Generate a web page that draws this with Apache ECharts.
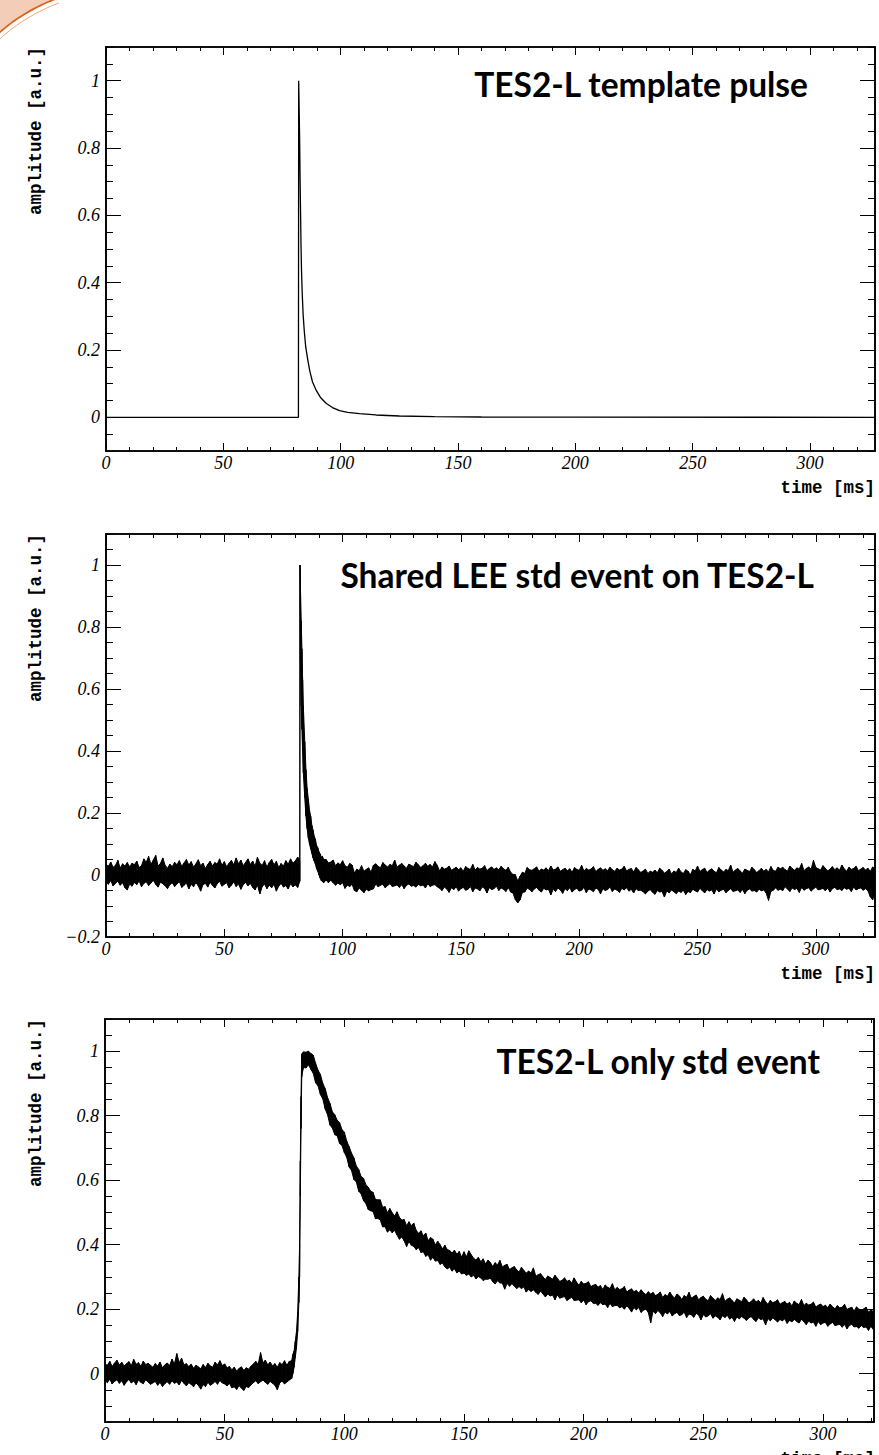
<!DOCTYPE html>
<html>
<head>
<meta charset="utf-8">
<script src="https://cdn.jsdelivr.net/npm/echarts@6/dist/echarts.min.js"></script>
<style>
  html, body { margin: 0; padding: 0; background: #ffffff; }
  #chart { width: 879px; height: 1455px; }
</style>
</head>
<body>
<div id="chart"></div>
<script>
// ---------- tick labels ----------
const xMajorTicks = [0, 50, 100, 150, 200, 250, 300];
const templateYTicks = [0, 0.2, 0.4, 0.6, 0.8, 1];
const leeYTicks = [-0.2, 0, 0.2, 0.4, 0.6, 0.8, 1];
const tesYTicks = [0, 0.2, 0.4, 0.6, 0.8, 1];

// ---------- panel 1: TES2-L template pulse (time in ms, amplitude in a.u.) ----------
const templateTime = [0, 82.0, 82.1, 82.3, 82.5, 82.7, 82.9, 83.1, 83.3, 83.6,
  84.0, 84.5, 85.1, 86.0, 86.8, 88.0, 89.6, 91.5, 93.9, 96.5,
  99.5, 103, 108, 115, 125, 140, 160, 200, 327.68];
const templateAmp = [0, 0, 1.0, 0.92, 0.83, 0.71, 0.61, 0.51, 0.44, 0.37,
  0.305, 0.255, 0.209, 0.17, 0.139, 0.105, 0.08, 0.058, 0.041, 0.029,
  0.02, 0.015, 0.011, 0.007, 0.004, 0.002, 0.001, 0.0005, 0];

// ---------- panel 2: shared LEE std event (lower / upper edge of the noisy trace) ----------
const leeTime = [
  0,1,2,3,4,5,6,7,8,9,10,11,12,13,14,15,16,17,18,19,20,21,22,23,24,25,26,27,28,29,
  30,31,32,33,34,35,36,37,38,39,40,41,42,43,44,45,46,47,48,49,50,51,52,53,54,55,56,57,58,59,
  60,61,62,63,64,65,66,67,68,69,70,71,72,73,74,75,76,77,78,79,80,81,
  81.9,82,82.2,82.5,82.8,83.1,83.4,84,84.5,85,85.5,86,86.5,87,87.5,88,88.5,89,89.5,90,90.5,91,91.5,92,
  93,94,95,96,97,98,99,100,101,102,103,104,105,106,107,108,109,110,111,112,113,114,115,116,117,118,119,120,
  121,122,123,124,125,126,127,128,129,130,131,132,133,134,135,136,137,138,139,140,141,142,143,144,145,146,147,148,149,150,
  151,152,153,154,155,156,157,158,159,160,161,162,163,164,165,166,167,168,169,170,171,172,173,174,175,176,177,178,179,180,
  181,182,183,184,185,186,187,188,189,190,191,192,193,194,195,196,197,198,199,200,201,202,203,204,205,206,207,208,209,210,
  211,212,213,214,215,216,217,218,219,220,221,222,223,224,225,226,227,228,229,230,231,232,233,234,235,236,237,238,239,240,
  241,242,243,244,245,246,247,248,249,250,251,252,253,254,255,256,257,258,259,260,261,262,263,264,265,266,267,268,269,270,
  271,272,273,274,275,276,277,278,279,280,281,282,283,284,285,286,287,288,289,290,291,292,293,294,295,296,297,298,299,300,
  301,302,303,304,305,306,307,308,309,310,311,312,313,314,315,316,317,318,319,320,321,322,323,324,325
];
const leeLow = [
  -0.022,-0.030,-0.018,-0.035,-0.027,-0.020,-0.033,-0.025,-0.041,-0.048,
  -0.029,-0.036,-0.024,-0.031,-0.019,-0.038,-0.027,-0.022,-0.034,-0.026,
  -0.017,-0.030,-0.039,-0.023,-0.028,-0.035,-0.044,-0.031,-0.025,-0.037,
  -0.029,-0.021,-0.040,-0.033,-0.026,-0.045,-0.030,-0.038,-0.024,-0.035,
  -0.052,-0.031,-0.027,-0.039,-0.023,-0.034,-0.042,-0.028,-0.020,-0.036,
  -0.030,-0.025,-0.041,-0.033,-0.022,-0.037,-0.029,-0.046,-0.031,-0.024,
  -0.035,-0.027,-0.040,-0.048,-0.032,-0.061,-0.038,-0.029,-0.044,-0.033,
  -0.041,-0.030,-0.052,-0.036,-0.027,-0.039,-0.034,-0.045,-0.028,-0.038,
  -0.032,-0.040,
  -0.020,0.900,0.700,0.545,0.470,0.400,0.330,0.250,0.190,0.150,0.120,0.100,
  0.085,0.070,0.055,0.045,0.035,0.020,0.012,0.000,-0.010,-0.018,-0.022,-0.025,
  -0.016,-0.025,-0.017,-0.025,-0.033,-0.026,-0.031,-0.025,-0.043,-0.033,
  -0.037,-0.030,-0.050,-0.054,-0.042,-0.049,-0.057,-0.046,-0.051,-0.047,
  -0.045,-0.029,-0.038,-0.033,-0.030,-0.041,-0.034,-0.028,-0.037,-0.035,
  -0.032,-0.040,-0.031,-0.044,-0.033,-0.029,-0.036,-0.034,-0.039,-0.030,
  -0.035,-0.032,-0.042,-0.028,-0.037,-0.033,-0.031,-0.038,-0.043,-0.050,
  -0.039,-0.045,-0.056,-0.041,-0.047,-0.038,-0.052,-0.044,-0.040,-0.049,
  -0.046,-0.037,-0.054,-0.042,-0.045,-0.051,-0.039,-0.043,-0.058,-0.041,
  -0.047,-0.044,-0.036,-0.050,-0.042,-0.046,-0.053,-0.040,-0.055,-0.058,
  -0.079,-0.090,-0.080,-0.056,-0.055,-0.042,-0.047,-0.054,-0.045,-0.040,
  -0.049,-0.055,-0.043,-0.048,-0.046,-0.064,
  -0.046,-0.053,-0.042,-0.048,-0.059,-0.044,-0.050,-0.041,-0.055,-0.047,
  -0.043,-0.052,-0.049,-0.040,-0.057,-0.045,-0.048,-0.054,-0.042,-0.046,
  -0.061,-0.044,-0.050,-0.047,-0.039,-0.053,-0.045,-0.049,-0.056,-0.043,
  -0.048,-0.041,-0.052,-0.046,-0.058,-0.044,-0.050,-0.049,-0.054,-0.061,
  -0.052,-0.047,-0.056,-0.062,-0.050,-0.055,-0.053,-0.071,-0.051,-0.058,
  -0.048,-0.054,-0.060,-0.052,-0.056,-0.049,-0.063,-0.053,-0.057,-0.046,
  -0.051,-0.055,-0.043,-0.050,-0.058,-0.047,-0.052,-0.048,-0.061,-0.045,
  -0.054,-0.049,-0.046,-0.057,-0.050,-0.044,-0.053,-0.051,-0.048,-0.056,
  -0.047,-0.060,-0.049,-0.045,-0.052,-0.050,-0.055,-0.046,-0.051,-0.048,
  -0.058,-0.082,-0.053,-0.049,-0.042,-0.049,
  -0.046,-0.050,-0.038,-0.045,-0.053,-0.042,-0.047,-0.043,-0.056,-0.040,
  -0.049,-0.044,-0.041,-0.052,-0.045,-0.039,-0.048,-0.046,-0.043,-0.051,
  -0.042,-0.055,-0.044,-0.040,-0.047,-0.045,-0.050,-0.041,-0.046,-0.043,
  -0.053,-0.039,-0.048,-0.044,-0.042,-0.049,-0.044,-0.051,-0.070,-0.080,
  -0.057
];
const leeHigh = [
  0.035,0.028,0.042,0.025,0.031,0.047,0.022,0.036,0.029,0.040,
  0.026,0.038,0.033,0.045,0.024,0.030,0.052,0.041,0.060,0.034,
  0.048,0.063,0.029,0.037,0.055,0.031,0.022,0.035,0.027,0.041,
  0.033,0.046,0.028,0.039,0.050,0.032,0.043,0.026,0.036,0.049,
  0.030,0.038,0.021,0.034,0.044,0.029,0.040,0.035,0.052,0.031,
  0.043,0.027,0.038,0.047,0.033,0.055,0.036,0.048,0.030,0.041,
  0.052,0.034,0.045,0.028,0.057,0.038,0.031,0.046,0.026,0.040,
  0.050,0.033,0.044,0.024,0.037,0.029,0.046,0.035,0.052,0.038,
  0.045,0.058,
  0.045,1.000,0.920,0.820,0.730,0.630,0.545,0.430,0.340,0.280,0.245,0.210,
  0.190,0.160,0.145,0.125,0.115,0.095,0.088,0.075,0.068,0.058,0.060,0.050,
  0.050,0.039,0.042,0.048,0.030,0.039,0.033,0.046,0.030,0.025,
  0.037,0.032,0.006,0.019,0.014,0.030,0.012,0.018,0.023,0.009,
  0.031,0.036,0.028,0.023,0.040,0.032,0.026,0.034,0.030,0.048,
  0.025,0.032,0.037,0.029,0.022,0.035,0.031,0.027,0.041,0.033,
  0.024,0.030,0.038,0.028,0.034,0.026,0.043,0.031,0.013,0.026,
  0.019,0.022,0.029,0.015,0.020,0.025,0.017,0.023,0.012,0.027,
  0.021,0.018,0.034,0.016,0.024,0.019,0.022,0.030,0.014,0.021,
  0.026,0.018,0.023,0.017,0.028,0.020,0.015,0.025,0.009,0.002,
  0.001,-0.019,-0.004,0.009,0.005,0.024,0.017,0.015,0.020,0.026,
  0.012,0.019,0.016,0.023,0.014,0.029,
  0.016,0.019,0.026,0.012,0.017,0.022,0.014,0.020,0.009,0.024,
  0.018,0.015,0.031,0.013,0.021,0.016,0.019,0.027,0.011,0.018,
  0.023,0.015,0.020,0.014,0.025,0.017,0.012,0.022,0.016,0.019,
  0.028,0.013,0.018,0.021,0.010,0.024,0.017,0.008,0.013,0.019,
  0.005,0.012,0.009,0.016,0.007,0.022,0.015,0.006,0.011,0.019,
  0.003,0.013,0.008,0.022,0.010,0.005,0.017,0.012,0.001,0.018,
  0.013,0.029,0.011,0.017,0.022,0.008,0.015,0.020,0.012,0.007,
  0.024,0.016,0.010,0.018,0.014,0.032,0.009,0.016,0.021,0.013,
  0.006,0.019,0.015,0.011,0.025,0.017,0.008,0.014,0.022,0.012,
  0.018,0.010,0.027,0.015,0.012,0.025,
  0.020,0.025,0.017,0.012,0.029,0.021,0.015,0.023,0.019,0.037,
  0.014,0.021,0.026,0.018,0.047,0.024,0.020,0.016,0.030,0.022,
  0.013,0.019,0.027,0.017,0.023,0.015,0.032,0.020,0.012,0.025,
  0.018,0.021,0.028,0.014,0.019,0.024,0.016,0.022,0.011,0.026,
  0.020
];

// ---------- panel 3: TES2-L only std event (lower / upper edge of the noisy trace) ----------
const tesTime = [
  0,1,2,3,4,5,6,7,8,9,10,11,12,13,14,15,16,17,18,19,20,21,22,23,24,25,26,27,28,29,
  30,31,32,33,34,35,36,37,38,39,40,41,42,43,44,45,46,47,48,49,50,51,52,53,54,55,56,57,58,59,
  60,61,62,63,64,65,66,67,68,69,70,71,72,73,74,75,76,77,
  78,78.5,79,79.5,80,80.5,81,81.3,81.6,81.9,82.2,82.5,83,
  84,85,86,87,88,89,90,91,92,93,94,95,96,97,98,99,100,101,102,103,104,105,106,107,108,109,110,
  111,112,113,114,115,116,117,118,119,120,121,122,123,124,125,126,127,128,129,130,131,132,133,134,135,136,137,138,139,140,
  141,142,143,144,145,146,147,148,149,150,151,152,153,154,155,156,157,158,159,160,161,162,163,164,165,166,167,168,169,170,
  171,172,173,174,175,176,177,178,179,180,181,182,183,184,185,186,187,188,189,190,191,192,193,194,195,196,197,198,199,200,
  201,202,203,204,205,206,207,208,209,210,211,212,213,214,215,216,217,218,219,220,221,222,223,224,225,226,227,228,229,230,
  231,232,233,234,235,236,237,238,239,240,241,242,243,244,245,246,247,248,249,250,251,252,253,254,255,256,257,258,259,260,
  261,262,263,264,265,266,267,268,269,270,271,272,273,274,275,276,277,278,279,280,281,282,283,284,285,286,287,288,289,290,
  291,292,293,294,295,296,297,298,299,300,301,302,303,304,305,306,307,308,309,310,311,312,313,314,315,316,317,318,319,320,321
];
const tesLow = [
  -0.021,-0.028,-0.017,-0.032,-0.024,-0.019,-0.030,-0.022,-0.036,-0.025,
  -0.018,-0.029,-0.023,-0.034,-0.020,-0.027,-0.031,-0.019,-0.026,-0.033,
  -0.029,-0.024,-0.036,-0.027,-0.040,-0.031,-0.025,-0.033,-0.022,-0.030,
  -0.026,-0.035,-0.021,-0.030,-0.038,-0.028,-0.033,-0.041,-0.029,-0.036,
  -0.048,-0.034,-0.040,-0.027,-0.036,-0.031,-0.024,-0.033,-0.021,-0.029,
  -0.032,-0.038,-0.030,-0.044,-0.041,-0.049,-0.037,-0.045,-0.052,-0.040,
  -0.043,-0.035,-0.028,-0.022,-0.031,-0.025,-0.020,-0.027,-0.033,-0.024,
  -0.030,-0.036,-0.050,-0.029,-0.023,-0.032,-0.026,-0.020,
  -0.015,0.000,0.020,0.050,0.080,0.130,0.220,0.300,0.550,0.760,0.920,0.935,0.950,
  0.948,0.958,0.944,0.932,0.902,0.893,0.866,0.852,0.821,0.803,
  0.771,0.762,0.741,0.738,0.714,0.708,0.686,0.671,0.641,0.630,
  0.602,0.595,0.566,0.558,0.537,0.528,0.509,
  0.505,0.503,0.481,0.481,0.477,0.455,0.456,0.439,0.446,0.437,
  0.445,0.430,0.417,0.424,0.412,0.394,0.410,0.398,0.395,0.385,
  0.391,0.376,0.378,0.364,0.369,0.352,0.361,0.349,0.351,0.339,
  0.343,0.331,0.325,0.330,0.318,0.325,0.313,0.318,0.309,0.312,
  0.305,0.309,0.300,0.305,0.294,0.301,0.297,0.289,0.293,
  0.293,0.296,0.285,0.278,0.288,0.281,0.281,0.262,0.280,0.271,
  0.279,0.272,0.264,0.270,0.264,0.269,0.253,0.261,0.255,0.260,
  0.252,0.246,0.256,0.247,0.238,0.247,0.241,0.244,0.229,0.244,
  0.234,0.237,0.239,0.227,0.232,0.237,0.227,0.228,0.229,0.220,
  0.228,0.214,0.223,0.226,0.218,0.218,0.212,0.220,0.214,0.216,
  0.205,0.218,0.208,0.211,0.212,0.204,0.208,0.200,0.210,0.203,
  0.191,0.205,0.198,0.205,0.190,0.197,0.200,0.190,0.158,
  0.194,0.186,0.196,0.189,0.177,0.191,0.185,0.193,0.179,0.186,
  0.190,0.180,0.183,0.191,0.174,0.185,0.182,0.175,0.187,0.182,
  0.167,0.183,0.176,0.179,0.186,0.172,0.179,0.175,0.167,0.180,
  0.174,0.181,0.169,0.175,0.162,0.176,0.170,0.177,0.172,0.165,
  0.173,0.177,0.168,0.162,0.173,0.168,0.170,0.151,0.171,0.164,
  0.173,0.167,0.160,0.168,0.164,0.170,0.156,0.165,0.161,0.168,
  0.162,0.157,0.169,0.161,0.152,0.163,0.157,0.160,0.147,0.162,
  0.152,0.157,0.159,0.147,0.154,0.159,0.149,0.151,0.153,0.144,
  0.153,0.139,0.149,0.153,0.145,0.146,0.141,0.149,0.143,0.145,
  0.134,0.147,0.137
];
const tesHigh = [
  0.030,0.026,0.038,0.022,0.033,0.041,0.027,0.035,0.024,0.031,
  0.037,0.025,0.044,0.029,0.034,0.023,0.039,0.028,0.032,0.026,
  0.020,0.031,0.024,0.036,0.018,0.027,0.033,0.025,0.045,0.030,
  0.062,0.034,0.048,0.027,0.031,0.022,0.029,0.017,0.026,0.021,
  0.015,0.028,0.019,0.032,0.024,0.020,0.035,0.027,0.040,0.025,
  0.030,0.018,0.022,0.012,0.020,0.008,0.016,0.021,0.010,0.018,
  0.014,0.023,0.030,0.038,0.029,0.065,0.033,0.042,0.027,0.036,
  0.024,0.031,0.020,0.034,0.028,0.040,0.026,0.038,
  0.040,0.060,0.070,0.100,0.130,0.190,0.300,0.400,0.660,0.860,0.990,0.995,0.998,
  0.997,1.000,0.993,0.988,0.962,0.941,0.928,0.900,0.884,0.856,
  0.838,0.812,0.803,0.786,0.779,0.757,0.749,0.721,0.704,0.684,
  0.669,0.644,0.633,0.611,0.606,0.586,0.578,
  0.566,0.562,0.540,0.539,0.539,0.516,0.518,0.499,0.512,0.499,
  0.489,0.502,0.485,0.476,0.478,0.459,0.471,0.459,0.467,0.445,
  0.435,0.443,0.427,0.436,0.412,0.422,0.417,0.399,0.411,0.400,
  0.387,0.398,0.385,0.382,0.374,0.383,0.370,0.379,0.361,0.378,
  0.362,0.381,0.369,0.358,0.352,0.361,0.347,0.356,0.340,
  0.352,0.345,0.332,0.344,0.337,0.351,0.331,0.336,0.339,0.323,
  0.328,0.332,0.322,0.315,0.330,0.320,0.312,0.318,0.312,0.328,
  0.302,0.307,0.310,0.300,0.292,0.303,0.298,0.293,0.305,0.296,
  0.286,0.290,0.297,0.286,0.290,0.281,0.297,0.284,0.274,0.286,
  0.278,0.280,0.285,0.270,0.274,0.277,0.268,0.273,0.261,0.275,
  0.268,0.264,0.279,0.260,0.267,0.261,0.263,0.270,0.253,0.259,
  0.263,0.254,0.258,0.250,0.260,0.251,0.245,0.254,0.247,
  0.252,0.242,0.246,0.253,0.236,0.245,0.240,0.253,0.241,0.235,
  0.247,0.241,0.230,0.242,0.237,0.252,0.234,0.239,0.244,0.229,
  0.236,0.240,0.231,0.226,0.242,0.234,0.227,0.235,0.230,0.248,
  0.224,0.231,0.235,0.227,0.219,0.232,0.228,0.223,0.237,0.229,
  0.219,0.224,0.232,0.222,0.227,0.219,0.236,0.223,0.215,0.228,
  0.220,0.223,0.229,0.215,0.220,0.224,0.216,0.221,0.210,0.225,
  0.218,0.214,0.230,0.211,0.218,0.213,0.215,0.222,0.206,0.212,
  0.216,0.208,0.212,0.205,0.216,0.207,0.201,0.211,0.204,0.206,
  0.215,0.199,0.203,0.206,0.194,0.207,0.200,0.197,0.201,0.206,
  0.191,0.197,0.193
];

// ---------- layout ----------
const BLACK = '#000000';
const panels = [
  { top: 47,   left: 106, height: 404, xMax: 327.68, yMin: -0.1,  yMax: 1.1, yTicks: templateYTicks,
    title: 'TES2-L template pulse', titleRight: 808, titleY: 83.5 },
  { top: 534,  left: 106, height: 403, xMax: 325,    yMin: -0.2,  yMax: 1.1, yTicks: leeYTicks,
    title: 'Shared LEE std event on TES2-L', titleRight: 814, titleY: 574.5 },
  { top: 1019, left: 105, height: 403, xMax: 321.3,  yMin: -0.15, yMax: 1.1, yTicks: tesYTicks,
    title: 'TES2-L only std event', titleRight: 820, titleY: 1061 }
];

const tickFont = {
  fontFamily: '"Liberation Serif", "Times New Roman", serif',
  fontStyle: 'italic', fontSize: 18, color: BLACK
};
function fmt(v) {
  const s = String(Math.round(v * 100) / 100);
  return s.replace('-', '\u2212');
}
const frameLine = { show: true, onZero: false, lineStyle: { color: BLACK, width: 1.6 } };
const tickLine = { color: BLACK, width: 1 };

const grids = [], xAxes = [], yAxes = [];
panels.forEach((p, g) => {
  grids.push({ left: p.left, top: p.top, width: (g === 2 ? 874 : 875) - p.left, height: p.height,
    containLabel: false });
  const xb = { type: 'value', gridIndex: g, min: 0, max: p.xMax, axisLine: frameLine,
    splitLine: { show: false }, minorTick: { show: false } };
  xAxes.push(
    Object.assign({}, xb, { position: 'bottom',
      axisTick: { inside: true, length: 8, customValues: xMajorTicks, lineStyle: tickLine },
      axisLabel: Object.assign({ margin: 3, customValues: xMajorTicks, formatter: fmt }, tickFont) }),
    Object.assign({}, xb, { position: 'bottom', interval: 10,
      axisTick: { inside: true, length: 4, lineStyle: tickLine }, axisLabel: { show: false } }),
    Object.assign({}, xb, { position: 'top',
      axisTick: { inside: true, length: 8, customValues: xMajorTicks, lineStyle: tickLine }, axisLabel: { show: false } }),
    Object.assign({}, xb, { position: 'top', interval: 10,
      axisTick: { inside: true, length: 4, lineStyle: tickLine }, axisLabel: { show: false } })
  );
  const yb = { type: 'value', gridIndex: g, min: p.yMin, max: p.yMax, axisLine: frameLine,
    splitLine: { show: false }, minorTick: { show: false } };
  yAxes.push(
    Object.assign({}, yb, { position: 'left',
      axisTick: { inside: true, length: 15, customValues: p.yTicks, lineStyle: tickLine },
      axisLabel: Object.assign({ margin: 6, customValues: p.yTicks, formatter: fmt }, tickFont) }),
    Object.assign({}, yb, { position: 'left', interval: 0.05,
      axisTick: { inside: true, length: 7, lineStyle: tickLine }, axisLabel: { show: false } }),
    Object.assign({}, yb, { position: 'right',
      axisTick: { inside: true, length: 15, customValues: p.yTicks, lineStyle: tickLine }, axisLabel: { show: false } }),
    Object.assign({}, yb, { position: 'right', interval: 0.05,
      axisTick: { inside: true, length: 7, lineStyle: tickLine }, axisLabel: { show: false } })
  );
});

// noisy traces: each sample interval is filled between the trace's lower and upper edges
function bandSeries(g, name, time, low, high) {
  return {
    type: 'custom', name: name, xAxisIndex: 4 * g, yAxisIndex: 4 * g, silent: true, clip: true,
    data: time.map((t, i) => [t, low[i], high[i]]),
    encode: { x: 0, y: [1, 2] },
    renderItem: function (params, api) {
      const i = params.dataIndex;
      if (i >= time.length - 1) return null;
      const a = api.coord([time[i], high[i]]);
      const b = api.coord([time[i + 1], high[i + 1]]);
      const c = api.coord([time[i + 1], low[i + 1]]);
      const d = api.coord([time[i], low[i]]);
      return {
        type: 'polygon',
        shape: { points: [a, b, c, d] },
        style: { fill: BLACK, stroke: BLACK, lineWidth: 1 }
      };
    }
  };
}

const series = [
  { type: 'line', name: 'template', xAxisIndex: 0, yAxisIndex: 0, symbol: 'none', silent: true,
    data: templateTime.map((t, i) => [t, templateAmp[i]]),
    lineStyle: { color: BLACK, width: 1.3 } },
  bandSeries(1, 'lee', leeTime, leeLow, leeHigh),
  bandSeries(2, 'tes', tesTime, tesLow, tesHigh)
];

// corner decoration: a circular arc cutting the top-left corner
function arcPoints(cx, cy, r, a0, a1, n) {
  const pts = [];
  for (let k = 0; k <= n; k++) {
    const a = a0 + (a1 - a0) * k / n;
    pts.push([cx + r * Math.cos(a), cy + r * Math.sin(a)]);
  }
  return pts;
}
const cornerArc = arcPoints(121, 172, 185, 3.96, 4.36, 24);
const cornerArc2 = arcPoints(121, 172, 180, 3.96, 4.36, 24);
const graphic = [
  { type: 'polygon', shape: { points: [[0, 0]].concat(cornerArc) }, style: { fill: '#f3cdb8' }, silent: true },
  { type: 'polyline', shape: { points: cornerArc }, style: { stroke: '#d8651e', lineWidth: 1.8, fill: null }, silent: true },
  { type: 'polyline', shape: { points: cornerArc2 }, style: { stroke: '#eca57a', lineWidth: 1, fill: null }, silent: true }
];
panels.forEach((p) => {
  graphic.push({
    type: 'text', x: p.titleRight, y: p.titleY, silent: true,
    style: { text: p.title, font: 'bold 33.5px Lato, "Noto Sans", sans-serif', fill: BLACK,
      align: 'right', verticalAlign: 'middle' }
  });
  graphic.push({
    type: 'text', x: 35.5, y: p.top, rotation: Math.PI / 2, silent: true,
    style: { text: 'amplitude [a.u.]', font: 'bold 17.5px "Liberation Mono", "DejaVu Sans Mono", monospace',
      fill: BLACK, align: 'right', verticalAlign: 'middle' }
  });
  graphic.push({
    type: 'text', x: 875, y: p.top + p.height + 37, silent: true,
    style: { text: 'time [ms]', font: 'bold 17.5px "Liberation Mono", "DejaVu Sans Mono", monospace',
      fill: BLACK, align: 'right', verticalAlign: 'middle' }
  });
});

const chart = echarts.init(document.getElementById('chart'), null, { renderer: 'svg', width: 879, height: 1455 });
chart.setOption({
  animation: false,
  backgroundColor: '#ffffff',
  grid: grids,
  xAxis: xAxes,
  yAxis: yAxes,
  series: series,
  graphic: graphic
});
</script>
</body>
</html>
